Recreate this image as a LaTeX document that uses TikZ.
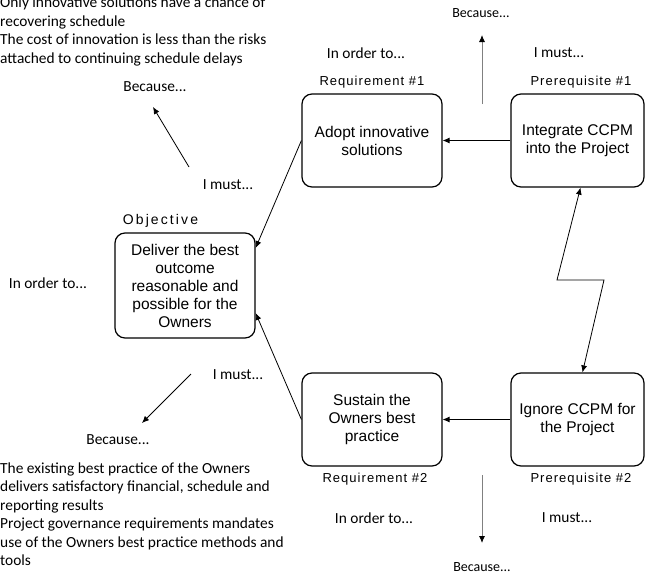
\documentclass[tikz,border=0pt]{standalone}
\usepackage{fontspec}
\setmainfont{Liberation Sans}
\newfontfamily\calfont{Carlito}
\newfontfamily\labfont[LetterSpace=8]{Liberation Sans}
\newfontfamily\objfont[LetterSpace=15]{Liberation Sans}
\usetikzlibrary{arrows.meta}
\begin{document}
\begin{tikzpicture}[x=1pt,y=-1pt,
  box/.style={draw,line width=1.2pt,rounded corners=10pt,align=center,
    font=\fontsize{15.5}{18}\selectfont,inner sep=0pt},
  note/.style={font=\calfont\fontsize{15.4}{18.5}\selectfont,inner sep=0pt},
  smallnote/.style={font=\calfont\fontsize{14}{18}\selectfont,inner sep=0pt},
  tag/.style={font=\labfont\fontsize{13}{15}\selectfont,inner sep=0pt,anchor=base},
  arr/.style={-{Latex[length=7pt,width=6pt]},line width=0.8pt},
  garr/.style={-{Latex[length=7pt,width=6pt,color=black]},line width=0.9pt,draw=black!50}]
\useasboundingbox[fill=white] (0,0) rectangle (645,576);

% boxes
\node[box,minimum width=140pt,minimum height=105pt] (O) at (185,285.5)
  {Deliver the best\\outcome\\reasonable and\\possible for the\\Owners};
\node[box,minimum width=140pt,minimum height=93pt] (R1) at (372,140.5)
  {Adopt innovative\\solutions};
\node[box,minimum width=133pt,minimum height=93pt] (P1) at (577.5,140.5)
  {Integrate CCPM\\into the Project};
\node[box,minimum width=140pt,minimum height=93pt] (R2) at (372,419.5)
  {Sustain the\\Owners best\\practice};
\node[box,minimum width=133pt,minimum height=93pt] (P2) at (577.5,419.5)
  {Ignore CCPM for\\the Project};

% tags
\node[tag,font=\objfont\fontsize{14}{15}\selectfont] (tO) at (160.5,224.5) {Objective};
\node[tag] (tR1) at (372,85) {Requirement \#1};
\node[tag] (tP1) at (581,85) {Prerequisite \#1};
\node[tag] (tR2) at (375,482.5) {Requirement \#2};
\node[tag] (tP2) at (581,482.5) {Prerequisite \#2};

% connectors between boxes
\draw[arr] (P1.west) -- (R1.east);
\draw[arr] (P2.west) -- (R2.east);
\draw[arr] (R1.west) -- ([yshift=37.5pt]O.east);
\draw[arr] (R2.west) -- ([yshift=-27.5pt]O.east);
\draw[{Latex[length=7pt,width=6pt]}-{Latex[length=7pt,width=6pt]},line width=0.8pt]
  ([xshift=3pt]P1.south) -- (557,280) -- (604,280) -- ([xshift=5pt]P2.north);

% free arrows
\coordinate (a1s) at (482,104); \coordinate (a1e) at (482,35);
\coordinate (a2s) at (189,167); \coordinate (a2e) at (153,107);
\coordinate (a3s) at (191,374); \coordinate (a3e) at (142,423);
\coordinate (a4s) at (482,475); \coordinate (a4e) at (482,543);
\draw[garr] (a1s) -- (a1e);
\draw[arr] (a2s) -- (a2e);
\draw[arr] (a3s) -- (a3e);
\draw[garr] (a4s) -- (a4e);

% notes
\node[smallnote] (b1) at (481,13) {Because...};
\node[note] (m1) at (559,53) {I must...};
\node[note] (o1) at (366,53) {In order to...};
\node[note] (b2) at (155,87) {Because...};
\node[note] (m2) at (228,185) {I must...};
\node[note] (o2) at (48,283) {In order to...};
\node[note] (m3) at (238,375) {I must...};
\node[note] (b3) at (118,440) {Because...};
\node[note] (o3) at (374,518) {In order to...};
\node[note] (m4) at (567,518) {I must...};
\node[smallnote] (b4) at (482,567) {Because...};

\node[note,anchor=north west,align=left] (top) at (0,-3)
  {Only innovative solutions have a chance of\\recovering schedule\\The cost of innovation is less than the risks\\attached to continuing schedule delays};
\node[note,anchor=north west,align=left] (bot) at (0,462.5)
  {The existing best practice of the Owners\\delivers satisfactory financial, schedule and\\reporting results\\Project governance requirements mandates\\use of the Owners best practice methods and\\tools};
\end{tikzpicture}
\end{document}
